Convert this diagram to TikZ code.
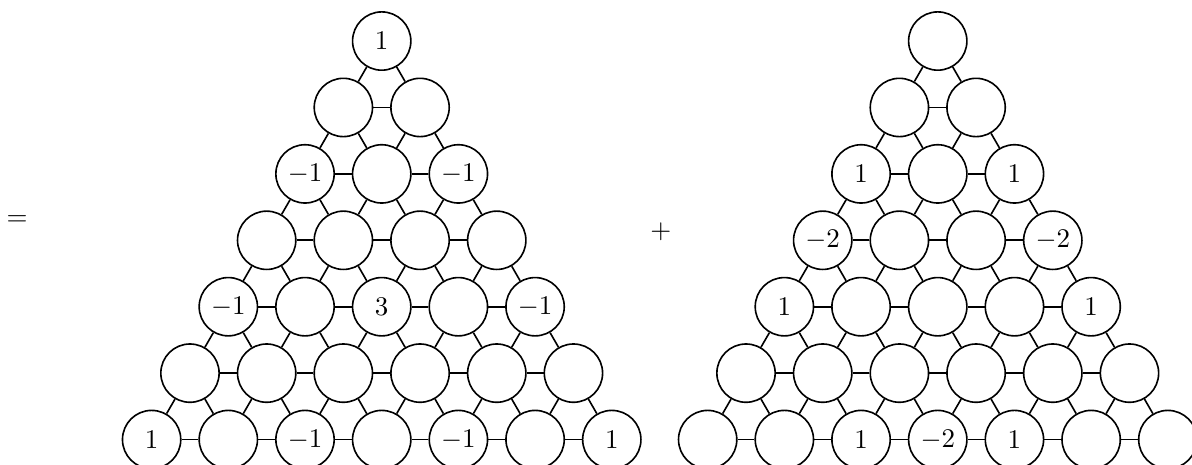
\documentclass[tikz,border=0pt]{standalone}
\usepackage{amsmath}

\tikzset{
  site/.style={draw,circle,semithick,minimum size=0.76cm,inner sep=0pt},
  bond/.style={semithick}
}

\begin{document}
\begin{tikzpicture}
  \useasboundingbox (-4.977,0.535) rectangle (10.565,-5.515);

  % left triangle, row by row
  \foreach \r/\row in {0/{$1$}, 1/{{},{}}, 2/{$-1$,{},$-1$}, 3/{{},{},{},{}},
      4/{$-1$,{},$3$,{},$-1$}, 5/{{},{},{},{},{},{}},
      6/{$1$,{},$-1$,{},$-1$,{},$1$}}
    \foreach \lab [count=\c from 0] in \row
      \node[site] (L-\r-\c) at ({\c-\r/2},{-0.866*\r}) {\lab};

  % right triangle
  \foreach \r/\row in {0/{{}}, 1/{{},{}}, 2/{$1$,{},$1$}, 3/{$-2$,{},{},$-2$},
      4/{$1$,{},{},{},$1$}, 5/{{},{},{},{},{},{}},
      6/{{},{},$1$,$-2$,$1$,{},{}}}
    \foreach \lab [count=\c from 0] in \row
      \node[site] (R-\r-\c) at ({7.25+\c-\r/2},{-0.866*\r}) {\lab};

  % bonds: two down to the next row, one along it
  \foreach \t in {L,R}
    \foreach \r in {0,...,5} {
      \pgfmathtruncatemacro\s{\r+1}
      \foreach \c in {0,...,\r} {
        \pgfmathtruncatemacro\d{\c+1}
        \draw[bond] (\t-\r-\c) -- (\t-\s-\c);
        \draw[bond] (\t-\r-\c) -- (\t-\s-\d);
        \draw[bond] (\t-\s-\c) -- (\t-\s-\d);
      }
    }

  \node (eq) at (-4.755,-2.347) {$=$};
  \node (plus) at (3.641,-2.49) {$+$};
\end{tikzpicture}
\end{document}
